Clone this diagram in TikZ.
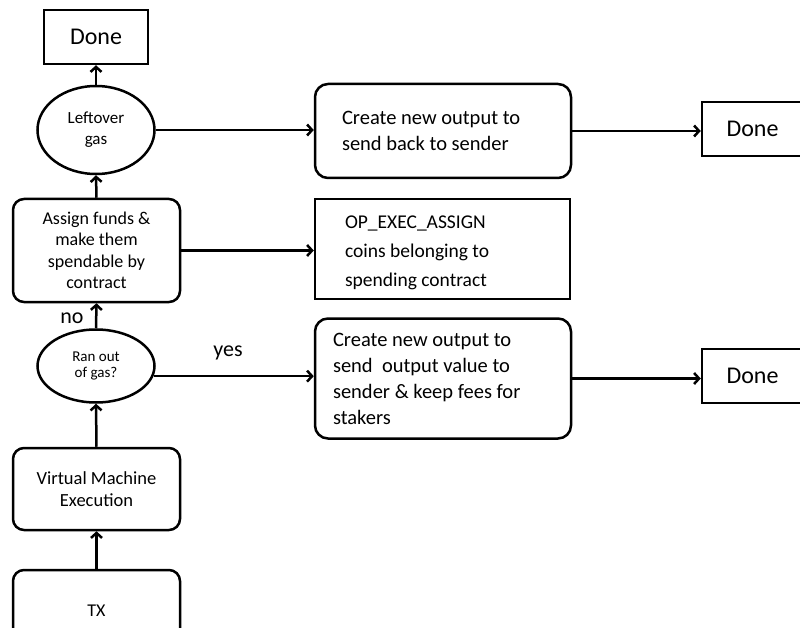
\documentclass[tikz,border=0pt]{standalone}
\usepackage{fontspec}
\setmainfont{Carlito}
\usetikzlibrary{arrows.meta,shapes.geometric}

\begin{document}
\begin{tikzpicture}[
    x=1pt, y=-1pt,
    line width=2.5pt,
    flow/.style={-{Straight Barb[length=5pt,width=11pt]}},
    stepbox/.style={draw, rounded corners=11pt, align=center, inner sep=0pt},
    endbox/.style={draw, inner sep=0pt, font=\fontsize{24}{26}\selectfont},
    test/.style={draw, ellipse, inner sep=0pt, align=center},
    outbox/.style={draw, rounded corners=13pt, align=flush left, inner ysep=0pt,
        font=\fontsize{20.5}{26}\selectfont},
    label/.style={font=\fontsize{22}{24}\selectfont}
]
    \useasboundingbox (0,0) rectangle (800,628);
    \clip (0,0) rectangle (800,628);

    \node [endbox, minimum width=104pt, minimum height=54pt] (done1) at (96,37) {Done};
    \node [test, minimum width=117pt, minimum height=88pt,
           font=\fontsize{17}{21}\selectfont] (left) at (96,130) {Leftover\\gas};
    \node [stepbox, minimum width=167pt, minimum height=103pt,
           font=\fontsize{18}{21.5}\selectfont] (assign) at (96.5,250.5)
           {Assign funds \&\\make them\\spendable by\\contract};
    \node [test, minimum width=117pt, minimum height=73pt,
           font=\fontsize{15}{16}\selectfont] (ran) at (96,366) {Ran out\\of gas?};
    \node [stepbox, minimum width=167pt, minimum height=82pt,
           font=\fontsize{18.5}{22}\selectfont] (vm) at (96.5,489) {Virtual Machine\\Execution};
    \node [stepbox, minimum width=167pt, minimum height=82pt,
           font=\fontsize{18}{20}\selectfont] (tx) at (96.5,611) {TX};

    \node [outbox, text width=202pt, inner xsep=27pt, minimum height=94pt] (out1) at (443,131)
        {Create new output to\\send back to sender};
    \node [draw, minimum width=255pt, minimum height=100pt] (op) at (442.5,249) {};
    \node [anchor=west, align=left, inner sep=0pt, font=\fontsize{19.5}{29}\selectfont]
        (optext) at ([xshift=30pt,yshift=-4pt]op.west) {OP\_EXEC\_ASSIGN\\coins belonging to\\spending contract};
    \node [outbox, text width=220pt, inner xsep=18pt, minimum height=120pt] (out3) at (443,378.5)
        {Create new output to\\send\ \ output value to\\sender \& keep fees for\\stakers};

    \node [endbox, minimum width=101pt, minimum height=54pt] (done2) at (752.5,129) {Done};
    \node [endbox, minimum width=101pt, minimum height=54pt] (done3) at (752.5,376) {Done};

    \draw [flow] (tx.north) -- (vm.south);
    \draw [flow] (vm.north) -- (ran.south);
    \draw [flow] (ran.north) -- (assign.south);
    \draw [flow] (assign.north) -- (left.south);
    \draw [flow] (left.north) -- (done1.south);

    \node [label] (no) at (72,318) {no};
    \node [label] (yes) at (228,353) {yes};

    \draw [flow] (left.east) -- (left.east -| out1.west);
    \draw [flow] (out1.east) -- (out1.east -| done2.west);
    \draw [flow] (assign.east) -- (assign.east -| op.west);
    \draw [flow] (ran.-10) -- (ran.-10 -| out3.west);
    \draw [flow] (out3.east) -- (out3.east -| done3.west);
\end{tikzpicture}
\end{document}
